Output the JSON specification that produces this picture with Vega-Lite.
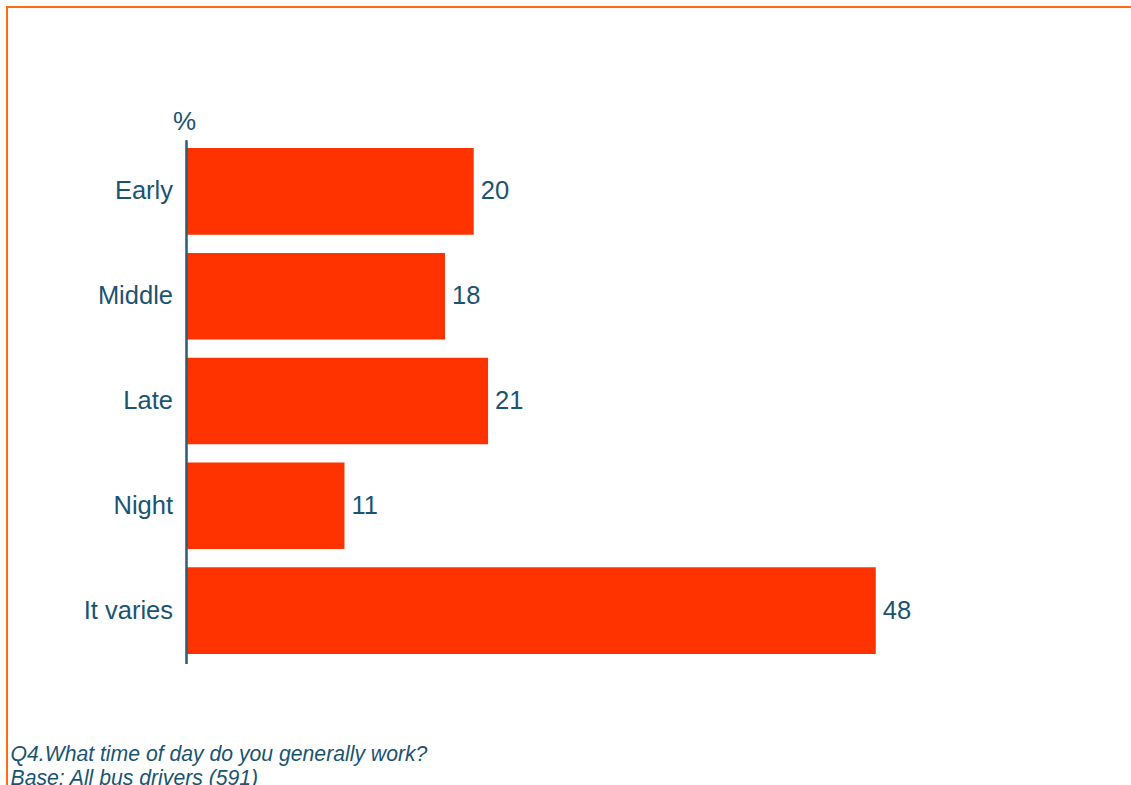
{
  "$schema": "https://vega.github.io/schema/vega-lite/v6.json",
  "width": 1130,
  "height": 788,
  "autosize": {"type": "none"},
  "padding": {"left": 7, "top": 7, "right": 0, "bottom": 0},
  "background": "white",
  "config": {
    "view": {"stroke": "#FF6A13", "strokeWidth": 2},
    "font": "Liberation Sans"
  },
  "data": {
    "values": [
      {"time": "Early", "pct": 20},
      {"time": "Middle", "pct": 18},
      {"time": "Late", "pct": 21},
      {"time": "Night", "pct": 11},
      {"time": "It varies", "pct": 48}
    ]
  },
  "encoding": {
    "y": {
      "field": "time",
      "type": "nominal",
      "sort": null,
      "scale": {
        "domain": [" ", "Early", "Middle", "Late", "Night", "It varies", "  "],
        "paddingInner": 0.174,
        "paddingOuter": 0.3465
      },
      "axis": {
        "title": "%",
        "titleAngle": 0,
        "titleX": -2.5,
        "titleY": 114,
        "titleAlign": "center",
        "titleBaseline": "middle",
        "titleFontSize": 26,
        "titleFontWeight": "normal",
        "titleColor": "#1A5471",
        "offset": -179.5,
        "domain": false,
        "ticks": false,
        "grid": false,
        "labelPadding": 14,
        "labelFontSize": 25.5,
        "labelColor": "#1A5471"
      }
    }
  },
  "layer": [
    {
      "mark": {"type": "bar", "color": "#FF3300"},
      "encoding": {
        "x": {
          "field": "pct",
          "type": "quantitative",
          "scale": {"domain": [-12.5, 66.19], "nice": false, "zero": false},
          "axis": {
            "title": ["Q4.What time of day do you generally work?", "Base: All bus drivers (591)"],
            "orient": "bottom",
            "labels": false,
            "ticks": false,
            "domain": false,
            "grid": false,
            "titleX": 3,
            "titleY": -35,
            "titleAlign": "left",
            "titleBaseline": "alphabetic",
            "titleFontStyle": "italic",
            "titleFontWeight": "normal",
            "titleFontSize": 21.2,
            "titleLineHeight": 24,
            "titleColor": "#1A5471"
          }
        },
        "x2": {"datum": 0}
      }
    },
    {
      "mark": {"type": "text", "align": "left", "baseline": "middle", "dx": 7, "fontSize": 25.5, "color": "#1A5471"},
      "encoding": {
        "x": {"field": "pct", "type": "quantitative"},
        "text": {"field": "pct", "type": "quantitative"}
      }
    },
    {
      "mark": {"type": "rule", "color": "#2E5E73", "strokeWidth": 1.5, "yOffset": -7.7, "y2Offset": 10},
      "encoding": {
        "x": {"datum": 0},
        "y": {"datum": "Early", "bandPosition": 0},
        "y2": {"datum": "It varies", "bandPosition": 1}
      }
    }
  ]
}
